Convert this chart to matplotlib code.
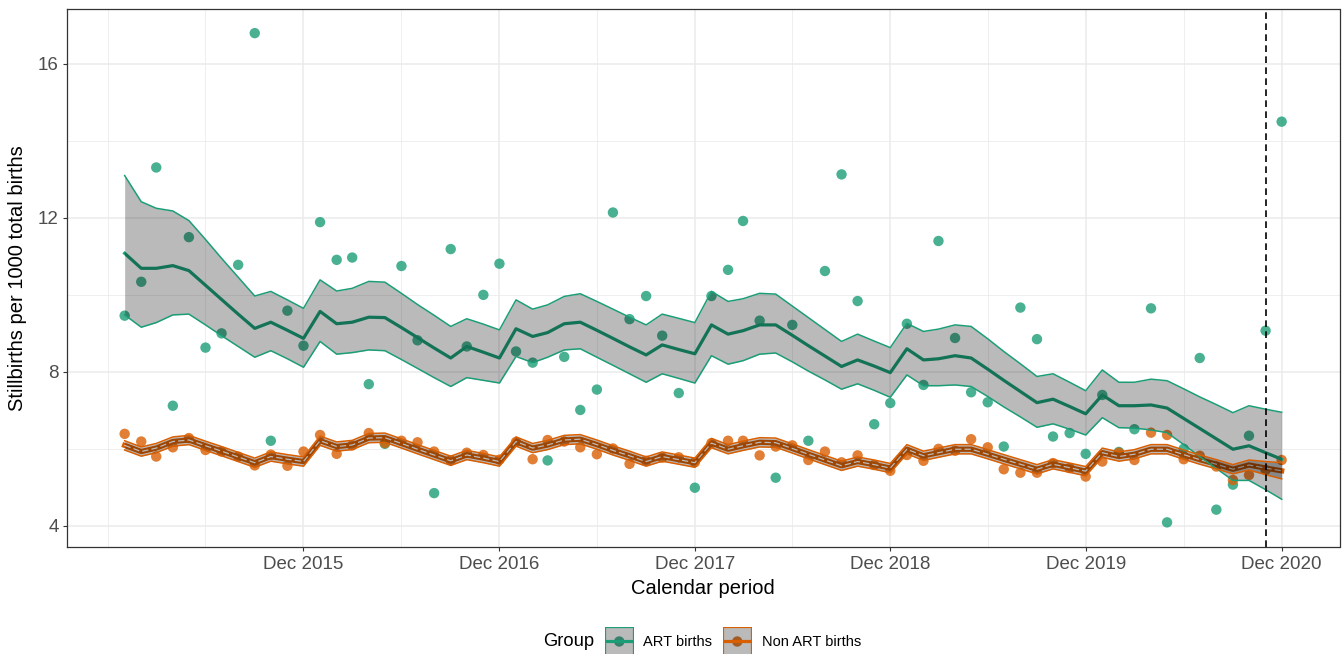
import numpy as np
import pandas as pd
import matplotlib
matplotlib.use("Agg")
import matplotlib.pyplot as plt
import matplotlib.dates as mdates
from matplotlib.patches import Rectangle

# ---------------- data ----------------
months = pd.date_range("2015-01-01", periods=72, freq="MS")

art_obs = [9.46, 10.34, 13.31, 7.12, 11.50, 8.63, 9.00, 10.78, 16.80, 6.21, 9.59, 8.68,
           11.89, 10.91, 10.97, 7.68, 6.13, 10.75, 8.82, 4.85, 11.19, 8.66, 10.00, 10.81,
           8.53, 8.24, 5.70, 8.39, 7.01, 7.54, 12.14, 9.37, 9.97, 8.94, 7.45, 4.99,
           9.97, 10.65, 11.92, 9.33, 5.25, 9.22, 6.21, 10.62, 13.13, 9.84, 6.64, 7.19,
           9.25, 7.66, 11.40, 8.88, 7.47, 7.21, 6.06, 9.67, 8.85, 6.32, 6.41, 5.87,
           7.40, 5.92, 6.51, 9.65, 4.09, 6.00, 8.36, 4.42, 5.07, 6.34, 9.07, 14.50]

nonart_obs = [6.39, 6.19, 5.80, 6.04, 6.28, 5.97, 5.93, 5.80, 5.57, 5.85, 5.56, 5.93,
              6.36, 5.87, 6.09, 6.41, 6.15, 6.21, 6.17, 5.93, 5.70, 5.90, 5.84, 5.72,
              6.18, 5.73, 6.23, 6.19, 6.04, 5.86, 6.01, 5.61, 5.69, 5.77, 5.78, 5.65,
              6.15, 6.21, 6.21, 5.83, 6.06, 6.09, 5.71, 5.93, 5.65, 5.83, 5.58, 5.43,
              5.84, 5.69, 6.00, 5.95, 6.25, 6.04, 5.47, 5.38, 5.38, 5.63, 5.50, 5.28,
              5.67, 5.90, 5.71, 6.42, 6.36, 5.73, 5.82, 5.54, 5.19, 5.32, 5.45, 5.71]

art_fit = [11.08, 10.69, 10.69, 10.76, 10.63, 10.25, 9.88, 9.50, 9.13, 9.29, 9.08, 8.87,
           9.57, 9.25, 9.29, 9.42, 9.41, 9.15, 8.89, 8.62, 8.36, 8.66, 8.51, 8.36,
           9.12, 8.92, 9.02, 9.25, 9.29, 9.08, 8.87, 8.65, 8.44, 8.70, 8.58, 8.47,
           9.22, 8.98, 9.07, 9.22, 9.22, 8.95, 8.68, 8.41, 8.14, 8.31, 8.15, 7.98,
           8.60, 8.31, 8.34, 8.42, 8.36, 8.07, 7.78, 7.49, 7.20, 7.29, 7.10, 6.91,
           7.40, 7.12, 7.12, 7.14, 7.06, 6.79, 6.53, 6.26, 5.99, 6.08, 5.90, 5.73]

art_hi = [13.10, 12.42, 12.25, 12.18, 11.93, 11.44, 10.95, 10.46, 9.97, 10.09, 9.87, 9.65,
          10.39, 10.10, 10.17, 10.35, 10.33, 10.04, 9.75, 9.47, 9.18, 9.38, 9.24, 9.09,
          9.87, 9.63, 9.74, 9.96, 10.03, 9.83, 9.63, 9.42, 9.22, 9.50, 9.39, 9.28,
          10.09, 9.83, 9.90, 10.04, 10.02, 9.71, 9.41, 9.10, 8.79, 8.98, 8.80, 8.63,
          9.26, 9.05, 9.11, 9.22, 9.18, 8.86, 8.53, 8.21, 7.88, 7.95, 7.73, 7.51,
          8.05, 7.73, 7.73, 7.81, 7.77, 7.56, 7.35, 7.15, 6.94, 7.12, 7.03, 6.95]

art_lo = [9.48, 9.16, 9.28, 9.48, 9.50, 9.22, 8.94, 8.66, 8.38, 8.55, 8.34, 8.12,
          8.79, 8.46, 8.50, 8.57, 8.55, 8.32, 8.09, 7.85, 7.62, 7.85, 7.78, 7.71,
          8.40, 8.24, 8.38, 8.57, 8.60, 8.38, 8.17, 7.95, 7.73, 7.95, 7.83, 7.71,
          8.42, 8.20, 8.29, 8.46, 8.49, 8.26, 8.02, 7.79, 7.55, 7.69, 7.52, 7.34,
          7.92, 7.64, 7.64, 7.66, 7.62, 7.36, 7.09, 6.83, 6.56, 6.65, 6.51, 6.36,
          6.81, 6.55, 6.54, 6.49, 6.42, 6.11, 5.80, 5.49, 5.18, 5.18, 4.94, 4.69]

nonart_fit = [6.09, 5.93, 6.02, 6.19, 6.23, 6.08, 5.94, 5.79, 5.64, 5.80, 5.73, 5.67,
              6.21, 6.06, 6.10, 6.28, 6.29, 6.14, 5.99, 5.84, 5.69, 5.84, 5.76, 5.67,
              6.19, 6.02, 6.10, 6.23, 6.25, 6.11, 5.96, 5.82, 5.67, 5.80, 5.72, 5.64,
              6.15, 5.99, 6.08, 6.17, 6.16, 6.01, 5.86, 5.71, 5.56, 5.67, 5.59, 5.50,
              5.99, 5.82, 5.90, 5.99, 5.99, 5.86, 5.73, 5.60, 5.47, 5.60, 5.51, 5.42,
              5.90, 5.80, 5.86, 5.99, 5.99, 5.85, 5.72, 5.60, 5.47, 5.58, 5.50, 5.43]

nonart_hi = [6.21, 6.05, 6.14, 6.31, 6.35, 6.20, 6.06, 5.91, 5.76, 5.92, 5.85, 5.79,
             6.33, 6.18, 6.22, 6.40, 6.41, 6.26, 6.11, 5.96, 5.81, 5.96, 5.88, 5.79,
             6.31, 6.14, 6.22, 6.35, 6.37, 6.23, 6.08, 5.94, 5.79, 5.92, 5.84, 5.76,
             6.27, 6.11, 6.20, 6.29, 6.28, 6.13, 5.98, 5.83, 5.68, 5.79, 5.71, 5.62,
             6.11, 5.94, 6.02, 6.11, 6.11, 5.98, 5.85, 5.72, 5.59, 5.72, 5.63, 5.54,
             6.02, 5.92, 5.98, 6.11, 6.11, 5.97, 5.84, 5.72, 5.59, 5.71, 5.67, 5.64]

nonart_lo = [5.97, 5.81, 5.90, 6.07, 6.11, 5.96, 5.82, 5.67, 5.52, 5.68, 5.61, 5.55,
             6.09, 5.94, 5.98, 6.16, 6.17, 6.02, 5.87, 5.72, 5.57, 5.72, 5.64, 5.55,
             6.07, 5.90, 5.98, 6.11, 6.13, 5.99, 5.84, 5.70, 5.55, 5.68, 5.60, 5.52,
             6.03, 5.87, 5.96, 6.05, 6.04, 5.89, 5.74, 5.59, 5.44, 5.55, 5.47, 5.38,
             5.87, 5.70, 5.78, 5.87, 5.87, 5.74, 5.61, 5.48, 5.35, 5.48, 5.39, 5.30,
             5.78, 5.68, 5.74, 5.87, 5.87, 5.73, 5.60, 5.48, 5.35, 5.45, 5.33, 5.22]

tick_dates = ["2015-12-01", "2016-12-01", "2017-12-01", "2018-12-01", "2019-12-01", "2020-12-01"]
tick_labels = ["Dec 2015", "Dec 2016", "Dec 2017", "Dec 2018", "Dec 2019", "Dec 2020"]
minor_dates = ["2014-12-01", "2015-06-01", "2016-06-01", "2017-06-01", "2018-06-01",
               "2019-06-01", "2020-06-01"]
vline_date = "2020-11-01"
y_ticks = [4, 8, 12, 16]
y_minor = [6, 10, 14]
group_names = ["ART births", "Non ART births"]
group_colors = ["#1b9e77", "#d95f02"]

# ---------------- style ----------------
plt.rcParams['font.family'] = ['Liberation Sans', 'DejaVu Sans']
W, H = 1343, 654
fig = plt.figure(figsize=(W / 100, H / 100), dpi=100)
px_l, px_r, px_t, px_b = 66.8, 1339.5, 8.5, 547.0
ax = fig.add_axes([px_l / W, 1 - px_b / H, (px_r - px_l) / W, (px_b - px_t) / H])

RIB_COLOR = "black"
RIB_ALPHA = 0.27
PT_SIZE = 56

x = mdates.date2num(months.to_pydatetime())
d0, d1 = x[0], x[-1]
ax.set_xlim(d0 - 0.05 * (d1 - d0), d1 + 0.05 * (d1 - d0))
ax.set_ylim(3.45, 17.44)

# grid
for yv in y_ticks:
    ax.axhline(yv, color="#ebebeb", lw=1.1, zorder=0)
for yv in y_minor:
    ax.axhline(yv, color="#ebebeb", lw=0.55, zorder=0)
tick_num = mdates.date2num(pd.to_datetime(tick_dates).to_pydatetime())
minor_num = mdates.date2num(pd.to_datetime(minor_dates).to_pydatetime())
for xv in tick_num:
    ax.axvline(xv, color="#ebebeb", lw=1.1, zorder=0)
for xv in minor_num:
    ax.axvline(xv, color="#ebebeb", lw=0.55, zorder=0)

# points
obs = [art_obs, nonart_obs]
his = [art_hi, nonart_hi]
los = [art_lo, nonart_lo]
for k in range(2):
    ax.scatter(x, obs[k], s=PT_SIZE, color=group_colors[k], alpha=0.8, edgecolors="none", zorder=2)

# fitted lines (under the ribbon)
ax.plot(x, art_fit, color=group_colors[0], lw=2.3, zorder=3, solid_joinstyle="round")
ax.plot(x, nonart_fit, color=group_colors[1], lw=3.8, zorder=3, solid_joinstyle="round")
ax.plot(x, nonart_fit, color="white", lw=0.9, zorder=3.1, dashes=(5, 2.5))

# ribbons
for k in range(2):
    ax.fill_between(x, los[k], his[k], color=RIB_COLOR, alpha=RIB_ALPHA, lw=0, zorder=4)
    ax.plot(x, his[k], color=group_colors[k], lw=1.1, zorder=5)
    ax.plot(x, los[k], color=group_colors[k], lw=1.1, zorder=5)

ax.axvline(mdates.date2num(pd.Timestamp(vline_date).to_pydatetime()), color="black",
           lw=1.2, dashes=(4, 2.6), zorder=6)

# axes
ax.set_xticks(tick_num)
ax.set_xticklabels(tick_labels)
ax.set_yticks(y_ticks)
ax.set_yticklabels([str(v) for v in y_ticks])
ax.tick_params(axis="both", which="major", length=3.2, width=0.8, color="#333333",
               labelcolor="#4d4d4d", labelsize=13.5)
ax.tick_params(axis="x", pad=3)
ax.tick_params(axis="y", pad=2.5)
for s in ax.spines.values():
    s.set_color("#333333")
    s.set_linewidth(0.9)
    s.set_zorder(7)

ax.set_xlabel("Calendar period", fontsize=14.5, color="black")
ax.xaxis.set_label_coords(0.5, -(589 - px_b) / (px_b - px_t))
ax.xaxis.label.set_va("center")
ax.set_ylabel("Stillbirths per 1000 total births", fontsize=14.5, color="black")
ax.yaxis.set_label_coords(-(px_l - 18) / (px_r - px_l), 0.5)
ax.yaxis.label.set_va("center")

# legend (bottom)
leg_y = 641.7
fig.text(543 / W, 1 - leg_y / H, "Group", fontsize=13.2, va="center", ha="left")
key_x = [605, 723]
lab_x = [643, 762]
for k in range(2):
    kax = fig.add_axes([key_x[k] / W, 1 - 656 / H, 28.5 / W, 29 / H])
    kax.set_xlim(0, 1)
    kax.set_ylim(0, 1)
    kax.axis("off")
    kax.plot([0, 1], [0.5, 0.5], color=group_colors[k], lw=2.3, solid_capstyle="butt")
    kax.scatter([0.5], [0.5], s=PT_SIZE, color=group_colors[k], alpha=0.8, edgecolors="none")
    kax.add_patch(Rectangle((0, 0), 1, 1, facecolor=RIB_COLOR, alpha=RIB_ALPHA, lw=0))
    kax.add_patch(Rectangle((0, 0), 1, 1, facecolor="none", edgecolor=group_colors[k], lw=1.6))
    fig.text(lab_x[k] / W, 1 - leg_y / H, group_names[k], fontsize=10.5, va="center", ha="left")

fig.savefig("out.png", dpi=100)
